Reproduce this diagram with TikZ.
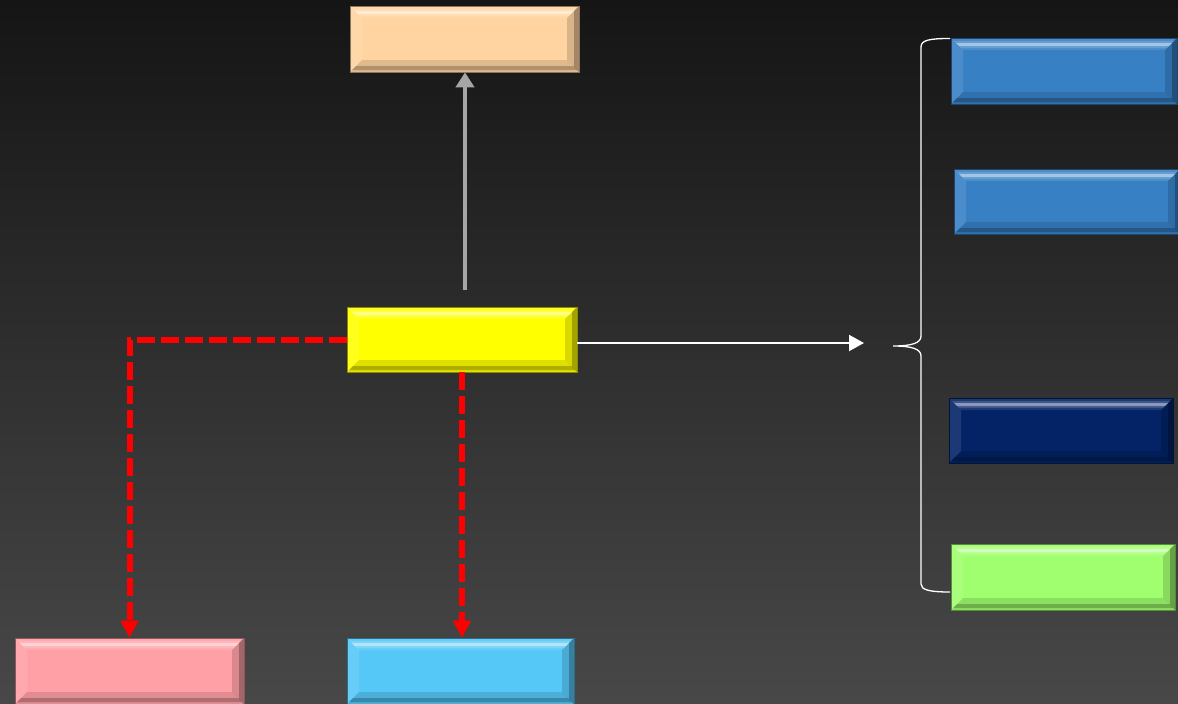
\documentclass[tikz,border=0pt]{standalone}
\usetikzlibrary{arrows.meta}
\definecolor{bgtop}{HTML}{151515}
\definecolor{bgbot}{HTML}{484848}
\definecolor{cpeach}{HTML}{FFD4A0}
\definecolor{cyellow}{HTML}{FFFF00}
\definecolor{cblue}{HTML}{3780C4}
\definecolor{cnavy}{HTML}{032366}
\definecolor{cgreen}{HTML}{A0FF6E}
\definecolor{cpink}{HTML}{FFA0A6}
\definecolor{ccyan}{HTML}{56C8F8}
\definecolor{cgray}{HTML}{A6A6A6}
\definecolor{cred}{HTML}{FF0000}
\tikzset{
  bev/.style={path picture={
    \path (path picture bounding box.north west) coordinate (@a)
          (path picture bounding box.north east) coordinate (@b)
          (path picture bounding box.south east) coordinate (@c)
          (path picture bounding box.south west) coordinate (@d);
    % top bevel
    \fill[white,opacity=.10] (@a) -- (@b) -- ([shift={(-12pt,-12pt)}]@b) -- ([shift={(12pt,-12pt)}]@a) -- cycle;
    \fill[white,opacity=.40] ([shift={(5pt,-5pt)}]@a) -- ([shift={(-5pt,-5pt)}]@b) -- ([shift={(-8pt,-8pt)}]@b) -- ([shift={(8pt,-8pt)}]@a) -- cycle;
    \fill[white,opacity=.15] ([shift={(3pt,-3pt)}]@a) -- ([shift={(-3pt,-3pt)}]@b) -- ([shift={(-10pt,-10pt)}]@b) -- ([shift={(10pt,-10pt)}]@a) -- cycle;
    % left bevel
    \fill[white,opacity=.10] (@a) -- ([shift={(12pt,-12pt)}]@a) -- ([shift={(12pt,12pt)}]@d) -- (@d) -- cycle;
    % right bevel
    \fill[black,opacity=.15] (@b) -- ([shift={(-12pt,-12pt)}]@b) -- ([shift={(-12pt,12pt)}]@c) -- (@c) -- cycle;
    \fill[black,opacity=.25] (@b) -- ([shift={(-5pt,-5pt)}]@b) -- ([shift={(-5pt,5pt)}]@c) -- (@c) -- cycle;
    % bottom bevel
    \fill[black,opacity=.12] (@d) -- ([shift={(12pt,12pt)}]@d) -- ([shift={(-12pt,12pt)}]@c) -- (@c) -- cycle;
    \fill[black,opacity=.22] ([shift={(2pt,2pt)}]@d) -- ([shift={(-2pt,2pt)}]@c) -- ([shift={(-6pt,6pt)}]@c) -- ([shift={(6pt,6pt)}]@d) -- cycle;
  }},
  bbox/.style={rectangle, inner sep=0pt, fill=#1, draw=#1!55!black, line width=.6pt, bev},
  grayarrow/.style={draw=cgray, line width=4.7pt, -{Triangle[width=18pt,length=15pt]}},
  redarrow/.style={draw=cred, line width=6pt, dash pattern=on 18pt off 6pt, -{Triangle[width=17pt,length=17pt]}},
  whitearrow/.style={draw=white, line width=2pt, -{Triangle[width=16pt,length=15pt]}},
  bracestyle/.style={draw=white, line width=1.3pt},
}
\begin{document}
\begin{tikzpicture}[x=1pt,y=-1pt]
\shade[top color=bgtop,bottom color=bgbot] (0,0) rectangle (1178,704);
\useasboundingbox (0,0) rectangle (1178,704);

\node[bbox=cpeach, minimum width=229pt, minimum height=66pt] (peach) at (464.5,39) {};
\node[bbox=cyellow, minimum width=230pt, minimum height=65pt] (yellow) at (462,339.5) {};
\node[bbox=cpink, minimum width=229pt, minimum height=66pt] (pink) at (129.5,671) {};
\node[bbox=ccyan, minimum width=227pt, minimum height=66pt] (cyan) at (460.5,671) {};
\node[bbox=cblue, minimum width=226pt, minimum height=66pt] (blueA) at (1064,71) {};
\node[bbox=cblue, minimum width=226pt, minimum height=65pt] (blueB) at (1067,201.5) {};
\node[bbox=cnavy, minimum width=224pt, minimum height=65pt] (navy) at (1061,430.5) {};
\node[bbox=cgreen, minimum width=224pt, minimum height=66pt] (green) at (1063,577) {};

\coordinate (gstart) at (465,290);
\draw[grayarrow] (gstart) -- (gstart |- peach.south);

\draw[redarrow] (yellow.west) -| (pink.north);
\draw[redarrow] (yellow.south) -- (yellow.south |- cyan.north);

\coordinate (wend) at (864,343);
\draw[whitearrow] ([yshift=-3.5pt]yellow.east) -- (wend);

\coordinate (btop) at (950,38.5);
\coordinate (bbot) at (950,592);
\coordinate (btip) at (893,346);
\draw[bracestyle] (btop) .. controls (930,38.5) and (921,40) .. (921,47)
  -- (921,336) .. controls (921,343) and (912,346) .. (btip)
  .. controls (912,346) and (921,349) .. (921,356)
  -- (921,584) .. controls (921,590) and (930,592) .. (bbot);
\end{tikzpicture}
\end{document}
